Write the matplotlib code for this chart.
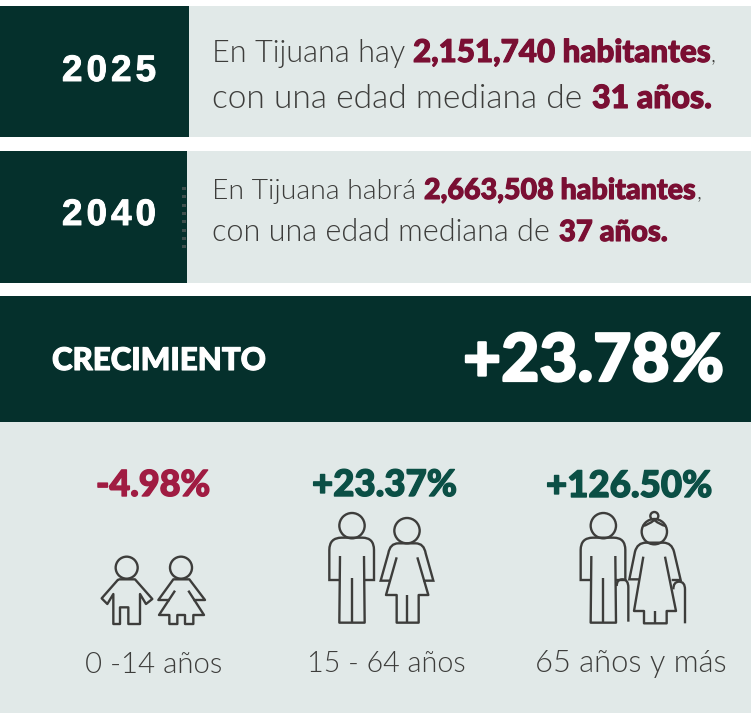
import matplotlib
matplotlib.use("Agg")
import matplotlib.pyplot as plt
import matplotlib.patheffects as pe
from matplotlib.patches import Rectangle, Circle
from matplotlib.path import Path
from matplotlib.patches import PathPatch

DARK = "#05302c"
PALE = "#e1e9e8"
WINE = "#7a0f33"
RED = "#a01c42"
GREEN = "#0b4f45"
INK = "#3d3d3b"

years = ["2025", "2040"]
line1_a = ["En Tijuana hay", "En Tijuana habrá"]
line1_b = ["2,151,740 habitantes", "2,663,508 habitantes"]
line2_a = ["con una edad mediana de", "con una edad mediana de"]
line2_b = ["31 años.", "37 años."]
growth_label = "CRECIMIENTO"
growth_total = "+23.78%"
group_changes = ["-4.98%", "+23.37%", "+126.50%"]
group_colors = [RED, GREEN, GREEN]
group_labels = ["0 -14 años", "15 - 64 años", "65 años y más"]

fig = plt.figure(figsize=(7.51, 7.13), dpi=100, facecolor="white")
ax = fig.add_axes([0, 0, 1, 1])
ax.set_xlim(0, 751)
ax.set_ylim(713, 0)
ax.axis("off")

LIGHT = dict(family="Lato", weight=300)
HEAVY = dict(family="Lato", weight=900)
renderer = fig.canvas.get_renderer()


def fit(s, x0, x1, base, color, font, stroke=0):
    """Text scaled so that it spans x0..x1 with baseline at base."""
    t = ax.text(x0, base, s, color=color, fontsize=20, va="baseline", ha="left", **font)
    w = t.get_window_extent(renderer).width
    t.set_fontsize(20 * (x1 - x0) / w)
    if stroke:
        t.set_path_effects([pe.withStroke(linewidth=stroke, foreground=color)])
    return t


def spaced(s, x0, x1, base, size, color, font, stroke=0):
    """Letter-spaced text spanning x0..x1."""
    ts = [ax.text(0, base, c, color=color, fontsize=size, va="baseline", **font) for c in s]
    ws = [t.get_window_extent(renderer).width for t in ts]
    gap = (x1 - x0 - sum(ws)) / (len(s) - 1)
    x = x0
    for t, w in zip(ts, ws):
        t.set_x(x)
        if stroke:
            t.set_path_effects([pe.withStroke(linewidth=stroke, foreground=color)])
        x += w + gap


def rect(x0, y0, x1, y1, c):
    ax.add_patch(Rectangle((x0, y0), x1 - x0, y1 - y0, fc=c, ec="none"))


# Panels
rect(0, 6, 751, 137, PALE)
rect(0, 6, 189, 137, DARK)
rect(0, 151, 751, 283, PALE)
rect(0, 151, 187, 283, DARK)
rect(0, 296, 751, 422, DARK)
rect(0, 422, 751, 713, PALE)
for k in range(8):
    rect(182, 187 + k * 8.3, 185.5, 190 + k * 8.3, "#3f4f4d")

# Rows
YEAR = dict(family="Liberation Sans", weight="bold")
year_base = [81, 225]
for i in range(2):
    spaced(years[i], 62, 156, year_base[i], 26.5, "white", YEAR, stroke=0.7)

S = 0.8
fit(line1_a[0], 212, 404, 62, INK, LIGHT)
fit(line1_b[0], 413, 711, 62, WINE, HEAVY, S)
fit(",", 711, 716, 62, INK, LIGHT)
fit(line2_a[0], 212, 582, 108, INK, LIGHT)
fit(line2_b[0], 592, 712, 108, WINE, HEAVY, S)

fit(line1_a[1], 212, 415, 199, INK, LIGHT)
fit(line1_b[1], 424, 696, 199, WINE, HEAVY, S)
fit(",", 696, 701, 199, INK, LIGHT)
fit(line2_a[1], 212, 550, 241, INK, LIGHT)
fit(line2_b[1], 559, 668, 241, WINE, HEAVY, S)

# Banner
fit(growth_label, 52, 266, 370, "white", HEAVY, S)
fit(growth_total, 463, 724, 381, "white", HEAVY, 1.6)

# Groups
change_span = [(96, 210), (312, 457), (546, 712)]
change_base = [496, 496, 497]
for s, c, sp, b in zip(group_changes, group_colors, change_span, change_base):
    fit(s, *sp, b, c, HEAVY, 1.0)
label_span = [(85, 222), (307, 465), (535, 726)]
label_base = [673, 672, 672]
for s, sp, b in zip(group_labels, label_span, label_base):
    fit(s, *sp, b, INK, LIGHT)


# Icons (pictograms)
def Z(ox, oy):
    return lambda p: (ox + p[0] / 3, oy + p[1] / 3)


LW = 1.7


def poly(conv, pts):
    xs, ys = zip(*[conv(p) for p in pts])
    ax.plot(xs, ys, color=INK, lw=LW, solid_joinstyle="round", solid_capstyle="butt")


def curve(conv, verts, codes):
    ax.add_patch(PathPatch(Path([conv(v) for v in verts], codes), fc="none", ec=INK, lw=LW))


def head(conv, c, r):
    x, y = conv(c)
    ax.add_patch(Circle((x, y), r / 3, fc="none", ec=INK, lw=LW))


M, L, C = Path.MOVETO, Path.LINETO, Path.CURVE3

z = Z(60, 500)
# boy
head(z, (200, 203), 33)
poly(z, [(175, 238), (225, 238), (277, 297), (258, 312), (240, 282), (240, 372), (205, 372), (205, 322),
         (180, 322), (180, 372), (160, 372), (160, 282), (142, 312), (125, 295), (175, 238)])
# girl
head(z, (363, 203), 33)
poly(z, [(330, 300), (295, 300), (340, 238), (388, 238), (435, 300), (400, 300)])
poly(z, [(345, 272), (297, 345), (328, 345), (328, 372), (352, 372), (352, 345), (375, 345), (375, 372),
         (400, 372), (400, 345), (432, 345), (385, 272)])


def man(conv, dx):
    head(conv, (876 + dx, 77), 38)
    curve(conv,
          [(838 + dx, 240), (808 + dx, 240), (808 + dx, 150), (808 + dx, 113), (845 + dx, 113), (907 + dx, 113),
           (942 + dx, 113), (942 + dx, 150), (942 + dx, 240), (912 + dx, 240)],
          [M, L, L, C, C, L, C, C, L, L])
    poly(conv, [(840 + dx, 168), (838 + dx, 368), (914 + dx, 368), (912 + dx, 168)])
    poly(conv, [(876 + dx, 235), (876 + dx, 368)])


man(z, 0)
# woman
head(z, (1041, 92), 38)
curve(z, [(992, 242), (962, 242), (985, 160), (990, 130), (1015, 130), (1067, 130), (1092, 130), (1097, 160),
          (1120, 242), (1090, 242)],
      [M, L, L, C, C, L, C, C, L, L])
poly(z, [(1010, 172), (978, 285), (1010, 285), (1010, 368), (1076, 368), (1076, 285), (1105, 285), (1072, 172)])
poly(z, [(1041, 285), (1041, 368)])

y = Z(520, 500)
# old man
man(y, -626)
curve(y, [(290, 258), (290, 238), (307, 238), (325, 238), (325, 262), (325, 365)], [M, C, C, C, C, L])
# old woman
head(y, (403, 95), 38)
head(y, (403, 48), 12)
curve(y, [(368, 78), (385, 75), (403, 60), (420, 75), (438, 78)], [M, C, C, C, C])
curve(y, [(360, 238), (328, 238), (345, 155), (352, 128), (378, 128), (430, 128), (455, 128), (462, 155),
          (482, 240), (455, 240)],
      [M, L, L, C, C, L, C, C, L, L])
poly(y, [(370, 170), (342, 333), (372, 333), (372, 370), (440, 370), (440, 333), (468, 333), (435, 170)])
poly(y, [(405, 333), (405, 370)])
curve(y, [(460, 268), (460, 245), (477, 245), (495, 245), (495, 268), (495, 370)], [M, C, C, C, C, L])

fig.savefig("out.png", dpi=100, facecolor="white")
